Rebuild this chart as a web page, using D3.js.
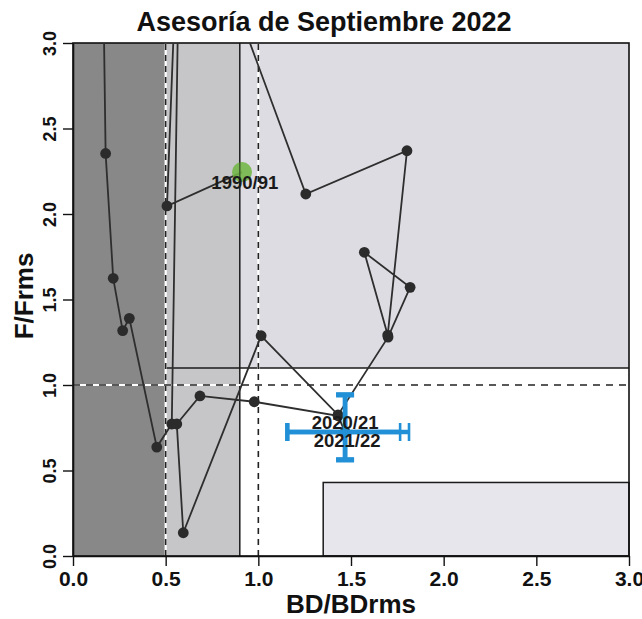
<!DOCTYPE html>
<html>
<head>
<meta charset="utf-8">
<script src="https://cdn.jsdelivr.net/npm/d3@7"></script>
<style>
  html, body { margin: 0; padding: 0; background: #ffffff; }
  svg { display: block; font-family: "Liberation Sans", Arial, sans-serif; }
</style>
</head>
<body>
<svg id="chart" width="642" height="619"></svg>
<script>
// ---------------- data ----------------
const titleText = "Asesoría de Septiembre 2022";
const xLabel = "BD/BDrms";
const yLabel = "F/Frms";
const xTicks = [0, 0.5, 1.0, 1.5, 2.0, 2.5, 3.0];
const yTicks = [0, 0.5, 1.0, 1.5, 2.0, 2.5, 3.0];

// trajectory (BD/BDrms, F/Frms), in drawing order, values > 3 are off the chart
const bdTraj = [0.912, 0.507, 0.58, 0.533, 0.452, 0.304, 0.268, 0.217, 0.176, 0.16, 0.75,
                1.256, 1.802, 1.698, 1.572, 1.819, 1.70, 1.43, 1.015, 0.595, 0.56, 0.685,
                0.978, 1.43, 1.468];
const fTraj  = [2.245, 2.047, 4.1, 0.772, 0.637, 1.39, 1.318, 1.624, 2.354, 3.6, 3.6,
                2.117, 2.37, 1.292, 1.776, 1.571, 1.28, 0.825, 1.288, 0.136, 0.772, 0.936,
                0.902, 0.82, 0.725];

// year labels
const labelText = ["1990/91", "2020/21", "2021/22"];
const labelBD   = [0.927, 1.468, 1.479];
const labelF    = [2.187, 0.783, 0.673];

// uncertainty of the last estimates
const ebBD   = [1.468, 1.468];
const ebF    = [0.725, 0.725];
const ebBDlo = [1.155, 1.158];
const ebBDhi = [1.765, 1.813];
const ebFlo  = [0.56, 0.565];
const ebFhi  = [0.94, 0.945];

// reference zones: [bd0, bd1, f0, f1]
const zoneNames = ["agotado", "sobreexplotado", "sobrepesca", "subexplotado"];
const zoneBD0 = [0.0, 0.5, 0.9, 1.35];
const zoneBD1 = [0.5, 0.9, 3.0, 3.0];
const zoneF0  = [0.0, 0.0, 1.1, 0.0];
const zoneF1  = [3.0, 3.0, 3.0, 0.43];
const zoneFill = ["#888888", "#c6c6c8", "#dcdce2", "#e6e6ec"];

// reference lines
const refV = [0.5, 1.0];
const refH = [1.0];

// ---------------- drawing ----------------
const svg = d3.select("#chart");
const x = d3.scaleLinear().domain([0, 3]).range([73, 629]);
const y = d3.scaleLinear().domain([0, 3]).range([556, 43]);

svg.append("defs").append("clipPath").attr("id", "plotclip")
  .append("rect").attr("x", x(0)).attr("y", y(3))
  .attr("width", x(3) - x(0)).attr("height", y(0) - y(3));

// zones
const zones = zoneNames.map((n, i) => ({n, b0: zoneBD0[i], b1: zoneBD1[i], f0: zoneF0[i], f1: zoneF1[i], c: zoneFill[i]}));
svg.append("g").selectAll("rect").data(zones).join("rect")
  .attr("x", d => x(d.b0)).attr("y", d => y(d.f1))
  .attr("width", d => x(d.b1) - x(d.b0)).attr("height", d => y(d.f0) - y(d.f1))
  .attr("fill", d => d.c);

// zone outlines
const gl = svg.append("g").attr("stroke", "#1a1a1a").attr("stroke-width", 1.5).attr("fill", "none");
gl.append("line").attr("x1", x(0.9)).attr("x2", x(0.9)).attr("y1", y(0)).attr("y2", y(3));
gl.append("line").attr("x1", x(0.5)).attr("x2", x(3)).attr("y1", y(1.1)).attr("y2", y(1.1));
gl.append("rect").attr("x", x(1.35)).attr("y", y(0.43))
  .attr("width", x(3) - x(1.35)).attr("height", y(0) - y(0.43));

// reference dashed lines (white underlay + black dashes)
const gd = svg.append("g");
refV.forEach(v => {
  gd.append("line").attr("x1", x(v)).attr("x2", x(v)).attr("y1", y(0)).attr("y2", y(3))
    .attr("stroke", "#ffffff").attr("stroke-width", 2.2);
  gd.append("line").attr("x1", x(v)).attr("x2", x(v)).attr("y1", y(0)).attr("y2", y(3))
    .attr("stroke", "#222").attr("stroke-width", 1.6).attr("stroke-dasharray", "6,5");
});
refH.forEach(v => {
  gd.append("line").attr("x1", x(0)).attr("x2", x(3)).attr("y1", y(v)).attr("y2", y(v))
    .attr("stroke", "#ffffff").attr("stroke-width", 2.2);
  gd.append("line").attr("x1", x(0)).attr("x2", x(3)).attr("y1", y(v)).attr("y2", y(v))
    .attr("stroke", "#222").attr("stroke-width", 1.6).attr("stroke-dasharray", "7,6");
});

// frame
svg.append("rect").attr("x", x(0)).attr("y", y(3))
  .attr("width", x(3) - x(0)).attr("height", y(0) - y(3))
  .attr("fill", "none").attr("stroke", "#111").attr("stroke-width", 1.6);

// trajectory
const traj = bdTraj.map((b, i) => ({b, f: fTraj[i]}));
const gt = svg.append("g").attr("clip-path", "url(#plotclip)");
gt.append("path").datum(traj)
  .attr("d", d3.line().x(d => x(d.b)).y(d => y(d.f)))
  .attr("fill", "none").attr("stroke", "#2e2e2e").attr("stroke-width", 1.8);
gt.selectAll("circle.pt").data(traj.slice(1)).join("circle").attr("class", "pt")
  .attr("cx", d => x(d.b)).attr("cy", d => y(d.f)).attr("r", 5.4)
  .attr("fill", "#2b2b2b");
// first year
gt.append("circle").attr("cx", x(traj[0].b)).attr("cy", y(traj[0].f)).attr("r", 10)
  .attr("fill", "#72b646").attr("fill-opacity", 0.88);
gt.append("line").attr("x1", x(0.9)).attr("x2", x(0.9)).attr("y1", y(traj[0].f) - 10).attr("y2", y(traj[0].f) + 10)
  .attr("stroke", "#1a1a1a").attr("stroke-width", 1.2).attr("stroke-opacity", 0.6);

// error bars
const blue = "#2290d6";
const eb = ebBD.map((b, i) => ({b, f: ebF[i], blo: ebBDlo[i], bhi: ebBDhi[i], flo: ebFlo[i], fhi: ebFhi[i]}));
const ge = svg.append("g").attr("stroke", blue).attr("fill", "none");
eb.forEach(d => {
  ge.append("line").attr("x1", x(d.blo)).attr("x2", x(d.bhi)).attr("y1", y(d.f)).attr("y2", y(d.f)).attr("stroke-width", 4.5);
  ge.append("line").attr("x1", x(d.b)).attr("x2", x(d.b)).attr("y1", y(d.flo)).attr("y2", y(d.fhi)).attr("stroke-width", 4.5);
  ge.append("line").attr("x1", x(d.blo)).attr("x2", x(d.blo)).attr("y1", y(d.f) - 9).attr("y2", y(d.f) + 9).attr("stroke-width", 4);
  ge.append("line").attr("x1", x(d.bhi)).attr("x2", x(d.bhi)).attr("y1", y(d.f) - 9).attr("y2", y(d.f) + 9).attr("stroke-width", 2.6);
  ge.append("line").attr("x1", x(d.b) - 9).attr("x2", x(d.b) + 9).attr("y1", y(d.flo)).attr("y2", y(d.flo)).attr("stroke-width", 4.5);
  ge.append("line").attr("x1", x(d.b) - 9).attr("x2", x(d.b) + 9).attr("y1", y(d.fhi)).attr("y2", y(d.fhi)).attr("stroke-width", 4.5);
});

// year labels
svg.append("g").selectAll("text").data(labelText).join("text")
  .attr("x", (d, i) => x(labelBD[i])).attr("y", (d, i) => y(labelF[i]))
  .attr("text-anchor", "middle").attr("dominant-baseline", "central")
  .attr("font-size", 18.5).attr("font-weight", "bold").attr("fill", "#1a1a1a")
  .text(d => d);

// axes
const xa = svg.append("g").attr("transform", `translate(0,${y(0)})`)
  .call(d3.axisBottom(x).tickValues(xTicks).tickFormat(d3.format(".1f")).tickSize(10).tickSizeOuter(0).tickPadding(5));
xa.select(".domain").attr("stroke", "#111").attr("stroke-width", 1.6);
xa.selectAll(".tick line").attr("stroke", "#111").attr("stroke-width", 1.4);
xa.selectAll("text").attr("font-size", 21).attr("font-weight", "bold").attr("fill", "#111")
  .attr("font-family", "Liberation Sans, Arial, sans-serif");

const ya = svg.append("g").attr("transform", `translate(${x(0)},0)`)
  .call(d3.axisLeft(y).tickValues(yTicks).tickFormat(d3.format(".1f")).tickSize(10).tickSizeOuter(0));
ya.select(".domain").attr("stroke", "#111").attr("stroke-width", 1.6);
ya.selectAll(".tick line").attr("stroke", "#111").attr("stroke-width", 1.4);
ya.selectAll("text").attr("font-size", 18).attr("font-weight", "bold").attr("fill", "#111")
  .attr("font-family", "Liberation Sans, Arial, sans-serif")
  .attr("text-anchor", "middle").attr("transform", "rotate(-90)")
  .attr("x", 0).attr("y", -17).attr("dy", 0);

// titles
svg.append("text").attr("x", 324).attr("y", 31).attr("text-anchor", "middle")
  .attr("font-size", 27).attr("font-weight", "bold").attr("fill", "#111").text(titleText);
svg.append("text").attr("x", 351).attr("y", 613).attr("text-anchor", "middle")
  .attr("font-size", 26).attr("font-weight", "bold").attr("fill", "#111").text(xLabel);
svg.append("text").attr("transform", "translate(33,296) rotate(-90)").attr("text-anchor", "middle")
  .attr("font-size", 26).attr("font-weight", "bold").attr("fill", "#111").text(yLabel);
</script>
</body>
</html>
